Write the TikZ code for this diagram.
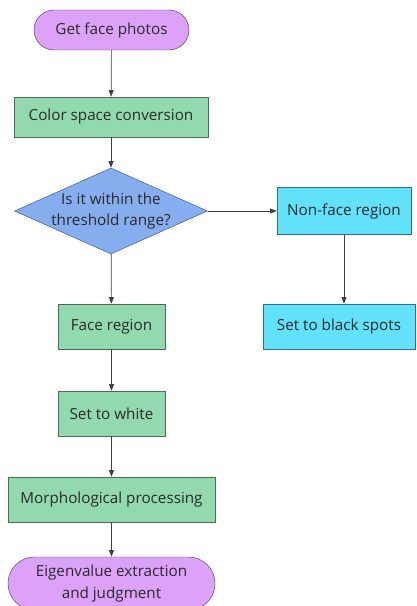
\documentclass[tikz,border=0pt]{standalone}
\usepackage{fontspec}
\setmainfont{Open Sans}
\usetikzlibrary{arrows.meta, shapes.geometric}
\definecolor{termfill}{HTML}{DCA2F7}
\definecolor{termedge}{HTML}{5E3A73}
\definecolor{procfill}{HTML}{93D9AF}
\definecolor{procedge}{HTML}{4A6B58}
\definecolor{decfill}{HTML}{86ADEE}
\definecolor{decedge}{HTML}{3A5585}
\definecolor{sidefill}{HTML}{62E1FA}
\definecolor{sideedge}{HTML}{2C6F86}
\definecolor{txt}{HTML}{2A2A2A}
\begin{document}
\begin{tikzpicture}[x=0.03cm, y=-0.03cm,
  term/.style={rectangle, rounded corners=0.6cm, draw=termedge, fill=termfill,
               minimum width=4.65cm, minimum height=1.2cm, align=center, font=\fontsize{13}{18.5}\selectfont, text=txt},
  proc/.style={rectangle, draw=procedge, fill=procfill, minimum height=1.35cm,
               align=center, font=\fontsize{13}{18.5}\selectfont, text=txt},
  dec/.style={diamond, aspect=2.24, draw=decedge, fill=decfill, inner sep=-3pt, minimum width=5.79cm,
              minimum height=2.58cm, align=center, font=\fontsize{13}{18.5}\selectfont, text=txt},
  side/.style={rectangle, draw=sideedge, fill=sidefill, minimum height=1.41cm,
               align=center, font=\fontsize{13}{18.5}\selectfont, text=txt},
  flow/.style={draw=black!75, semithick, -{Triangle[length=2mm, width=1.5mm]}},
]
\useasboundingbox (0,0) rectangle (417,606);
% main column
\node[term] (photos) at (111.5, 30) {Get face photos};
\node[proc, minimum width=5.82cm, minimum height=1.2cm] (convert) at (111, 117) {Color space conversion};
\node[dec] (threshold) at (111, 211) {Is it within the\\threshold range?};
\node[proc, minimum width=3.21cm] (face) at (111.5, 326.5) {Face region};
\node[proc, minimum width=3.21cm] (white) at (111.5, 413.5) {Set to white};
\node[proc, minimum width=6.21cm] (morph) at (111.5, 499.5) {Morphological processing};
\node[term, minimum width=6.21cm, minimum height=1.59cm, rounded corners=0.79cm] (eigen) at (111.5, 583.5) {Eigenvalue extraction\\and judgment};
% side branch
\node[side, minimum width=4.02cm] (nonface) at (344, 211) {Non-face region};
\node[side, minimum width=4.56cm, minimum height=1.35cm] (black) at (339, 326.5) {Set to black spots};
% connectors
\draw[flow] (photos) -- (convert);
\draw[flow] (convert) -- (threshold);
\draw[flow] (threshold) -- (face);
\draw[flow] (face) -- (white);
\draw[flow] (white) -- (morph);
\draw[flow] (morph) -- (eigen);
\draw[flow] (threshold.east) -- (nonface.west);
\draw[flow] (nonface.south) -- (nonface.south |- black.north);
\end{tikzpicture}
\end{document}
